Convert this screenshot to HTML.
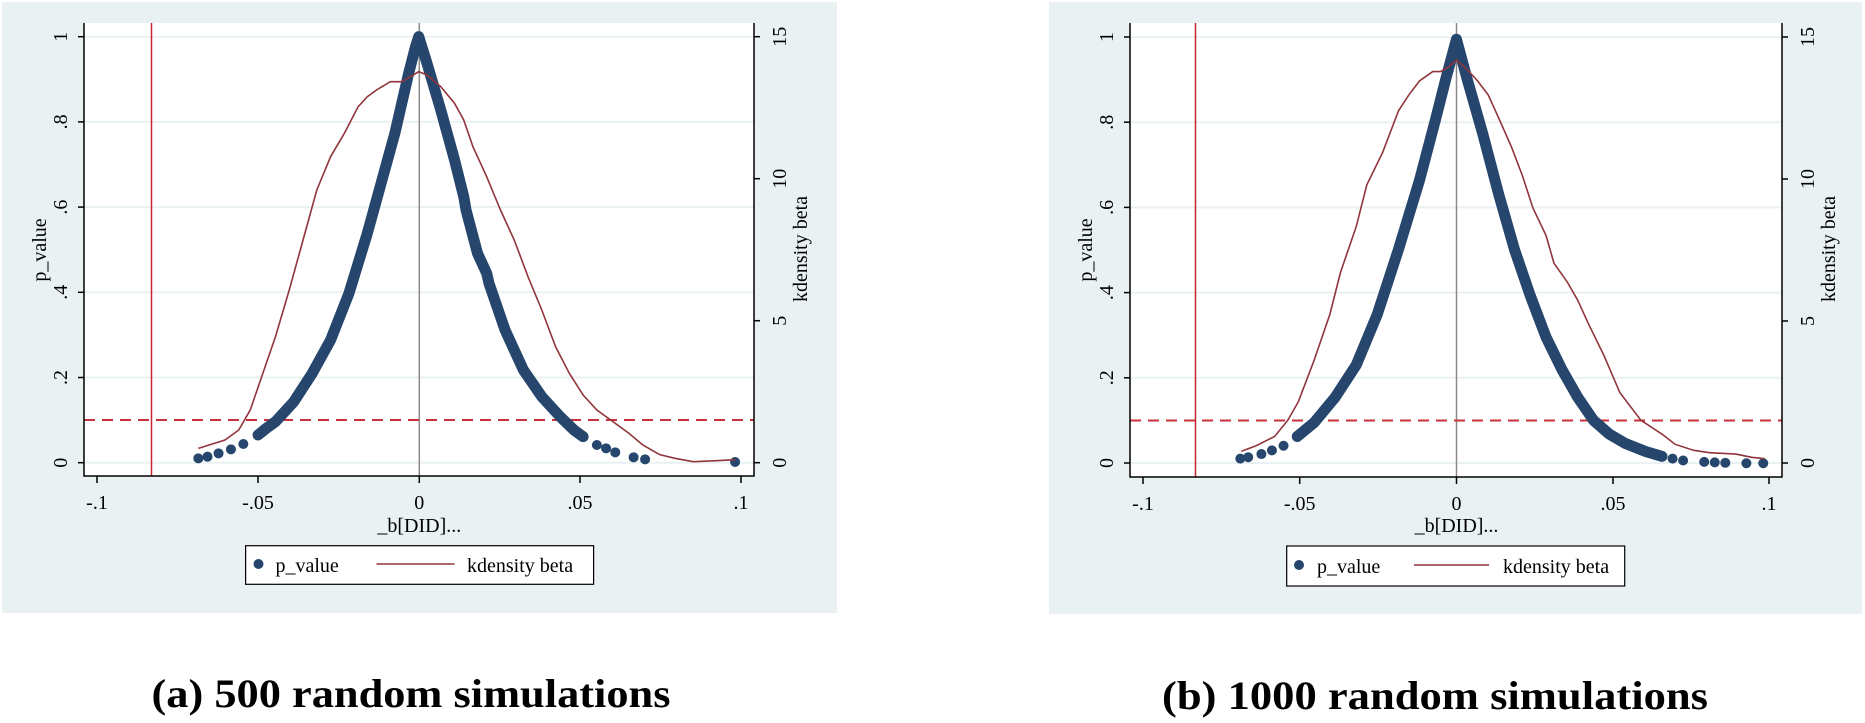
<!DOCTYPE html>
<html><head><meta charset="utf-8"><style>
html,body{margin:0;padding:0;background:#fff;}
svg{display:block;}
text{font-family:"Liberation Serif",serif;fill:#000;}
</style></head><body>
<svg width="1865" height="723" viewBox="0 0 1865 723" xmlns="http://www.w3.org/2000/svg">
<!-- ================= LEFT CHART ================= -->
<rect x="2" y="2" width="835" height="611" fill="#e9f1f3"/>
<rect x="84" y="23" width="670" height="453" fill="#fff"/>
<g stroke="#eaf1f3" stroke-width="2">
<line x1="84" x2="754" y1="36.7" y2="36.7"/><line x1="84" x2="754" y1="121.9" y2="121.9"/>
<line x1="84" x2="754" y1="207.1" y2="207.1"/><line x1="84" x2="754" y1="292.3" y2="292.3"/>
<line x1="84" x2="754" y1="377.5" y2="377.5"/><line x1="84" x2="754" y1="462.7" y2="462.7"/>
</g>
<line x1="419.3" x2="419.3" y1="23" y2="476" stroke="#8a8a8a" stroke-width="1.5"/>
<line x1="151.5" x2="151.5" y1="23" y2="476" stroke="#c0282d" stroke-width="1.5"/>
<line x1="84" x2="754" y1="420" y2="420" stroke="#c8303a" stroke-width="2" stroke-dasharray="11,7"/>
<g transform="scale(0.45914,0.33333)">
<polyline fill="none" stroke="#26466d" stroke-width="11" stroke-linecap="round" stroke-linejoin="round" vector-effect="non-scaling-stroke"
 points="562,1305 580,1285 600,1265 640,1205 680,1120 720,1020 760,880 800,700 830,550 860,400 890,220 905,140 912,110 930,190 960,330 990,480 1010,590 1015,630 1040,760 1060,820 1065,850 1100,990 1140,1110 1180,1190 1220,1250 1250,1290 1270,1310"/>
<g fill="#26466d">
<ellipse cx="432" cy="1375" rx="10.9" ry="15"/><ellipse cx="452" cy="1370" rx="10.9" ry="15"/>
<ellipse cx="476" cy="1360" rx="10.9" ry="15"/><ellipse cx="503" cy="1348" rx="10.9" ry="15"/>
<ellipse cx="530" cy="1332" rx="10.9" ry="15"/><ellipse cx="562" cy="1305" rx="10.9" ry="15"/>
<ellipse cx="1300" cy="1335" rx="10.9" ry="15"/><ellipse cx="1320" cy="1345" rx="10.9" ry="15"/>
<ellipse cx="1340" cy="1357" rx="10.9" ry="15"/><ellipse cx="1380" cy="1372" rx="10.9" ry="15"/>
<ellipse cx="1405" cy="1378" rx="10.9" ry="15"/><ellipse cx="1601" cy="1386" rx="10.9" ry="15"/>
</g>
<polyline fill="none" stroke="#90353b" stroke-width="1.6" vector-effect="non-scaling-stroke"
 points="432,1345 490,1320 520,1290 545,1230 570,1130 600,1010 630,870 660,720 690,570 720,470 750,400 780,320 800,290 820,270 850,245 875,245 900,225 912,215 930,225 960,260 990,310 1010,360 1030,440 1060,530 1090,630 1120,720 1150,830 1180,930 1210,1040 1240,1120 1270,1185 1300,1230 1330,1260 1370,1300 1400,1335 1437,1364 1470,1375 1510,1385 1560,1382 1601,1379"/>
</g>
<!-- axes -->
<g stroke="#000" stroke-width="1.5" fill="none">
<polyline points="84,23 84,476 754,476 754,23"/>
<line x1="97" x2="97" y1="476" y2="483"/><line x1="258" x2="258" y1="476" y2="483"/>
<line x1="419.3" x2="419.3" y1="476" y2="483"/><line x1="580" x2="580" y1="476" y2="483"/>
<line x1="741" x2="741" y1="476" y2="483"/>
<line x1="78" x2="84" y1="36.7" y2="36.7"/><line x1="78" x2="84" y1="121.9" y2="121.9"/>
<line x1="78" x2="84" y1="207.1" y2="207.1"/><line x1="78" x2="84" y1="292.3" y2="292.3"/>
<line x1="78" x2="84" y1="377.5" y2="377.5"/><line x1="78" x2="84" y1="462.7" y2="462.7"/>
<line x1="754" x2="760" y1="36.7" y2="36.7"/><line x1="754" x2="760" y1="178.7" y2="178.7"/>
<line x1="754" x2="760" y1="320.7" y2="320.7"/><line x1="754" x2="760" y1="462.7" y2="462.7"/>
</g>
<g font-size="20" text-anchor="middle">
<text x="97" y="509">-.1</text><text x="258" y="509">-.05</text><text x="419.3" y="509">0</text>
<text x="580" y="509">.05</text><text x="741" y="509">.1</text>
<text x="419.3" y="532">_b[DID]...</text>
<text transform="translate(67,36.7) rotate(-90)">1</text>
<text transform="translate(67,121.9) rotate(-90)">.8</text>
<text transform="translate(67,207.1) rotate(-90)">.6</text>
<text transform="translate(67,292.3) rotate(-90)">.4</text>
<text transform="translate(67,377.5) rotate(-90)">.2</text>
<text transform="translate(67,462.7) rotate(-90)">0</text>
<text transform="translate(46,250) rotate(-90)">p_value</text>
<text transform="translate(786,36.7) rotate(-90)">15</text>
<text transform="translate(786,178.7) rotate(-90)">10</text>
<text transform="translate(786,320.7) rotate(-90)">5</text>
<text transform="translate(786,462.7) rotate(-90)">0</text>
<text transform="translate(807,249) rotate(-90)">kdensity beta</text>
</g>
<rect x="245.6" y="545.7" width="348" height="38.6" fill="#fff" stroke="#000" stroke-width="1.2"/>
<circle cx="258.5" cy="564" r="5" fill="#26466d"/>
<text x="275.5" y="572" font-size="20">p_value</text>
<line x1="376.5" x2="454.5" y1="564" y2="564" stroke="#90353b" stroke-width="1.6"/>
<text x="467" y="572" font-size="20">kdensity beta</text>
<text x="151.5" y="707" font-size="40" font-weight="bold" textLength="519" lengthAdjust="spacingAndGlyphs">(a)  500 random simulations</text>

<!-- ================= RIGHT CHART ================= -->
<rect x="1049" y="2" width="813" height="612" fill="#e9f1f3"/>
<rect x="1130" y="23" width="652" height="454" fill="#fff"/>
<g stroke="#eaf1f3" stroke-width="2">
<line x1="1130" x2="1782" y1="37" y2="37"/><line x1="1130" x2="1782" y1="122.2" y2="122.2"/>
<line x1="1130" x2="1782" y1="207.4" y2="207.4"/><line x1="1130" x2="1782" y1="292.6" y2="292.6"/>
<line x1="1130" x2="1782" y1="377.8" y2="377.8"/><line x1="1130" x2="1782" y1="463" y2="463"/>
</g>
<line x1="1456.5" x2="1456.5" y1="23" y2="477" stroke="#8a8a8a" stroke-width="1.5"/>
<line x1="1195.5" x2="1195.5" y1="23" y2="477" stroke="#c0282d" stroke-width="1.5"/>
<line x1="1130" x2="1782" y1="420.5" y2="420.5" stroke="#c8303a" stroke-width="2" stroke-dasharray="11,7"/>
<g transform="translate(1040,0) scale(0.52715,0.46189)">
<polyline fill="none" stroke="#26466d" stroke-width="11" stroke-linecap="round" stroke-linejoin="round" vector-effect="non-scaling-stroke"
 points="488,945 520,915 560,860 600,790 640,680 680,540 720,390 750,260 770,170 790,85 810,170 840,290 870,420 900,540 930,640 960,730 990,800 1020,860 1050,910 1080,940 1110,960 1150,978 1180,988"/>
<g fill="#26466d">
<ellipse cx="380" cy="993" rx="9.5" ry="10.8"/><ellipse cx="395" cy="990" rx="9.5" ry="10.8"/>
<ellipse cx="420" cy="983" rx="9.5" ry="10.8"/><ellipse cx="440" cy="975" rx="9.5" ry="10.8"/>
<ellipse cx="462" cy="965" rx="9.5" ry="10.8"/><ellipse cx="488" cy="945" rx="9.5" ry="10.8"/>
<ellipse cx="1200" cy="993" rx="9.5" ry="10.8"/><ellipse cx="1220" cy="997" rx="9.5" ry="10.8"/>
<ellipse cx="1260" cy="1000" rx="9.5" ry="10.8"/><ellipse cx="1280" cy="1001" rx="9.5" ry="10.8"/>
<ellipse cx="1300" cy="1002" rx="9.5" ry="10.8"/><ellipse cx="1340" cy="1003" rx="9.5" ry="10.8"/>
<ellipse cx="1372" cy="1003" rx="9.5" ry="10.8"/>
</g>
<polyline fill="none" stroke="#90353b" stroke-width="1.6" vector-effect="non-scaling-stroke"
 points="382,977 410,965 445,945 470,910 490,870 520,780 550,680 570,590 600,490 620,400 650,330 680,240 700,205 720,175 745,155 760,155 775,145 790,130 810,150 830,175 850,205 870,255 895,320 915,380 935,450 960,510 975,570 1000,610 1020,650 1040,700 1070,770 1100,850 1140,910 1180,940 1205,962 1240,975 1270,980 1320,983 1350,990 1375,993"/>
</g>
<g stroke="#000" stroke-width="1.5" fill="none">
<polyline points="1130,23 1130,477 1782,477 1782,23"/>
<line x1="1143" x2="1143" y1="477" y2="484"/><line x1="1299.7" x2="1299.7" y1="477" y2="484"/>
<line x1="1456.5" x2="1456.5" y1="477" y2="484"/><line x1="1613" x2="1613" y1="477" y2="484"/>
<line x1="1769" x2="1769" y1="477" y2="484"/>
<line x1="1124" x2="1130" y1="37" y2="37"/><line x1="1124" x2="1130" y1="122.2" y2="122.2"/>
<line x1="1124" x2="1130" y1="207.4" y2="207.4"/><line x1="1124" x2="1130" y1="292.6" y2="292.6"/>
<line x1="1124" x2="1130" y1="377.8" y2="377.8"/><line x1="1124" x2="1130" y1="463" y2="463"/>
<line x1="1782" x2="1788" y1="37" y2="37"/><line x1="1782" x2="1788" y1="179" y2="179"/>
<line x1="1782" x2="1788" y1="321" y2="321"/><line x1="1782" x2="1788" y1="463" y2="463"/>
</g>
<g font-size="20" text-anchor="middle">
<text x="1143" y="510">-.1</text><text x="1299.7" y="510">-.05</text><text x="1456.5" y="510">0</text>
<text x="1613" y="510">.05</text><text x="1769" y="510">.1</text>
<text x="1456.5" y="532">_b[DID]...</text>
<text transform="translate(1113,37) rotate(-90)">1</text>
<text transform="translate(1113,122.2) rotate(-90)">.8</text>
<text transform="translate(1113,207.4) rotate(-90)">.6</text>
<text transform="translate(1113,292.6) rotate(-90)">.4</text>
<text transform="translate(1113,377.8) rotate(-90)">.2</text>
<text transform="translate(1113,463) rotate(-90)">0</text>
<text transform="translate(1092,250) rotate(-90)">p_value</text>
<text transform="translate(1814,37) rotate(-90)">15</text>
<text transform="translate(1814,179) rotate(-90)">10</text>
<text transform="translate(1814,321) rotate(-90)">5</text>
<text transform="translate(1814,463) rotate(-90)">0</text>
<text transform="translate(1835,249) rotate(-90)">kdensity beta</text>
</g>
<rect x="1286.7" y="546" width="338" height="40" fill="#fff" stroke="#000" stroke-width="1.2"/>
<circle cx="1299" cy="565" r="5" fill="#26466d"/>
<text x="1317" y="573" font-size="20">p_value</text>
<line x1="1414" x2="1489" y1="565" y2="565" stroke="#90353b" stroke-width="1.6"/>
<text x="1503" y="573" font-size="20">kdensity beta</text>
<text x="1162" y="709" font-size="40" font-weight="bold" textLength="546" lengthAdjust="spacingAndGlyphs">(b)  1000 random simulations</text>
</svg>
</body></html>
